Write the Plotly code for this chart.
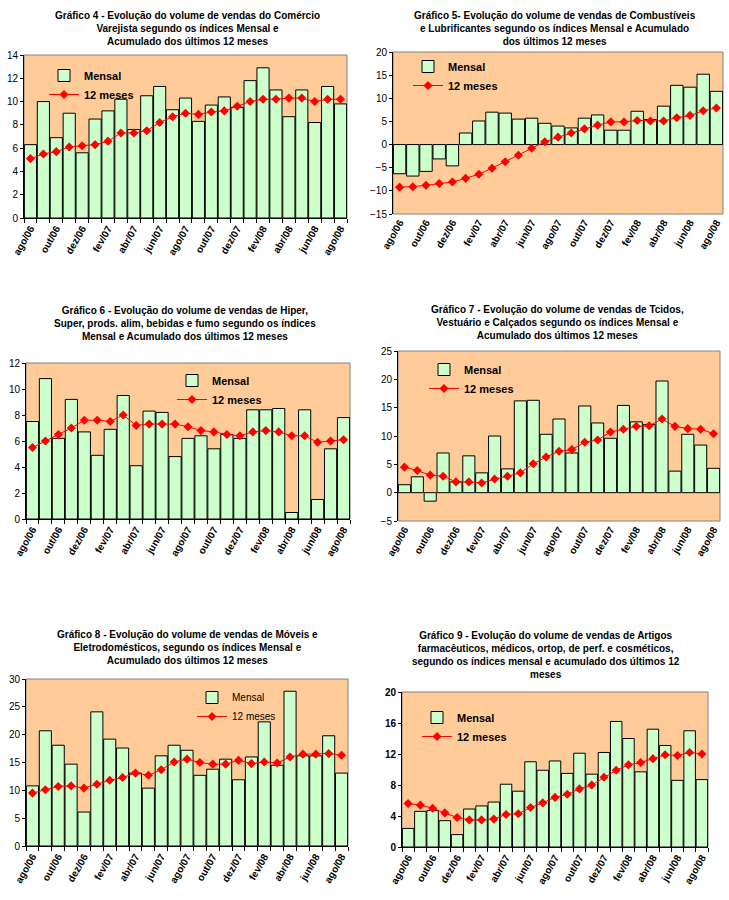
import plotly.graph_objects as go

months = ["ago/06", "set/06", "out/06", "nov/06", "dez/06", "jan/07", "fev/07", "mar/07",
          "abr/07", "mai/07", "jun/07", "jul/07", "ago/07", "set/07", "out/07", "nov/07",
          "dez/07", "jan/08", "fev/08", "mar/08", "abr/08", "mai/08", "jun/08", "jul/08", "ago/08"]

# Gráfico 4 - Comércio Varejista
g4_mensal = [6.3, 10.0, 6.9, 9.0, 5.6, 8.5, 9.2, 10.2, 7.6, 10.5, 11.3, 9.3, 10.3, 8.3, 9.7,
             10.4, 9.5, 11.8, 12.9, 11.0, 8.7, 11.0, 8.2, 11.3, 9.8]
g4_12m = [5.1, 5.5, 5.7, 6.1, 6.2, 6.3, 6.6, 7.3, 7.3, 7.5, 8.2, 8.7, 9.0, 8.9, 9.1,
          9.2, 9.6, 10.0, 10.2, 10.2, 10.3, 10.3, 10.0, 10.2, 10.2]

# Gráfico 5 - Combustíveis e Lubrificantes
g5_mensal = [-6.3, -6.8, -5.8, -3.1, -4.6, 2.5, 5.1, 7.0, 6.8, 5.5, 5.7, 4.6, 4.0, 3.6, 5.7,
             6.4, 3.1, 3.1, 7.2, 5.4, 8.3, 12.8, 12.4, 15.2, 11.5]
g5_12m = [-9.2, -9.1, -8.8, -8.4, -8.1, -7.3, -6.4, -5.1, -3.7, -2.3, -0.8, 0.6, 1.6, 2.5, 3.4,
          4.2, 4.9, 4.9, 5.2, 5.1, 5.1, 5.8, 6.3, 7.3, 7.9]

# Gráfico 6 - Hiper, Super, prods. alim, bebidas e fumo
g6_mensal = [7.5, 10.8, 6.2, 9.2, 6.7, 4.9, 6.9, 9.5, 4.1, 8.3, 8.2, 4.8, 6.2, 6.4, 5.4,
             6.5, 6.2, 8.4, 8.4, 8.5, 0.5, 8.4, 1.5, 5.4, 7.8]
g6_12m = [5.5, 6.0, 6.5, 7.0, 7.6, 7.6, 7.5, 8.0, 7.2, 7.3, 7.3, 7.3, 7.1, 6.8, 6.7,
          6.5, 6.4, 6.7, 6.8, 6.7, 6.4, 6.4, 5.9, 6.0, 6.1]

# Gráfico 7 - Tecidos, Vestuário e Calçados
g7_mensal = [1.4, 2.8, -1.5, 7.0, 1.9, 6.5, 3.5, 10.0, 4.2, 16.2, 16.3, 10.3, 13.0, 7.0, 15.3,
             12.3, 9.6, 15.4, 12.5, 12.0, 19.7, 3.8, 10.3, 8.4, 4.3]
g7_12m = [4.5, 3.9, 3.1, 2.9, 1.9, 1.9, 1.7, 2.4, 2.9, 3.5, 5.1, 6.3, 7.3, 7.6, 8.9,
          9.3, 10.7, 11.2, 11.7, 11.8, 13.0, 11.7, 11.3, 11.2, 10.4]

# Gráfico 8 - Móveis e Eletrodomésticos
g8_mensal = [10.8, 20.7, 18.1, 14.7, 6.1, 24.1, 19.2, 17.6, 13.1, 10.4, 16.2, 18.1, 17.2, 12.7, 13.8,
             15.6, 11.9, 16.0, 22.3, 14.5, 27.8, 16.2, 16.2, 19.8, 13.1]
g8_12m = [9.5, 10.1, 10.7, 10.8, 10.4, 11.1, 11.8, 12.3, 13.1, 12.7, 13.7, 15.1, 15.6, 15.0, 14.7,
          14.7, 15.4, 14.8, 15.1, 14.9, 16.0, 16.5, 16.5, 16.6, 16.3]

# Gráfico 9 - Artigos farmacêuticos, médicos, ortop., perf. e cosméticos
g9_mensal = [2.4, 4.6, 4.7, 3.4, 1.6, 4.9, 5.3, 5.8, 8.1, 7.2, 11.0, 9.9, 11.1, 9.5, 12.1,
             9.4, 12.2, 16.2, 14.0, 9.7, 15.2, 13.1, 8.6, 15.0, 8.7]
g9_12m = [5.6, 5.4, 5.0, 4.4, 3.8, 3.5, 3.5, 3.6, 4.2, 4.3, 5.1, 5.7, 6.4, 6.8, 7.5,
          8.0, 9.0, 9.9, 10.6, 10.9, 11.4, 11.9, 11.8, 12.2, 12.0]

titles = [
    "Gráfico 4 - Evolução do volume de vendas do Comércio<br>Varejista segundo os índices Mensal e<br>Acumulado dos últimos 12 meses",
    "Gráfico 5- Evolução do volume de vendas de Combustíveis<br>e Lubrificantes segundo os índices Mensal e Acumulado<br>dos últimos 12 meses",
    "Gráfico 6 - Evolução do volume de vendas de Hiper,<br>Super, prods. alim, bebidas e fumo segundo os índices<br>Mensal e Acumulado dos últimos 12 meses",
    "Gráfico 7 - Evolução do volume de vendas de Tcidos,<br>Vestuário e Calçados segundo os índices Mensal e<br>Acumulado dos últimos 12 meses",
    "Gráfico 8 - Evolução do volume de vendas de Móveis e<br>Eletrodomésticos, segundo os índices Mensal e<br>Acumulado dos últimos 12 meses",
    "Gráfico 9 - Evolução do volume de vendas de Artigos<br>farmacêuticos, médicos, ortop, de perf. e cosméticos,<br>segundo os índices mensal e acumulado dos últimos 12<br>meses",
]
series = [(g4_mensal, g4_12m), (g5_mensal, g5_12m), (g6_mensal, g6_12m),
          (g7_mensal, g7_12m), (g8_mensal, g8_12m), (g9_mensal, g9_12m)]

W, H = 729, 900
FONT = "Liberation Sans, Arial, sans-serif"

# layout config (pixels): plot area x0,x1,y0,y1 ; y range ; dtick ; title center/top ; legend pos
panels = [
    dict(px=(24, 347), py=(55, 218), yr=(0, 14), dt=2, tc=(187, 8), lg=(44, 61), lgap=0, ybold=False, lfs=11, lbold=True),
    dict(px=(393, 723), py=(52, 214), yr=(-15, 20), dt=5, tc=(555, 8), lg=(408, 52), lgap=0, ybold=False, lfs=11, lbold=True),
    dict(px=(26, 350), py=(363, 519), yr=(0, 12), dt=2, tc=(185, 303), lg=(172, 366), lgap=2, ybold=False, lfs=11, lbold=True),
    dict(px=(398, 720), py=(351, 521), yr=(-5, 25), dt=5, tc=(557, 302), lg=(424, 355), lgap=2, ybold=False, lfs=11, lbold=True),
    dict(px=(26, 348), py=(679, 846), yr=(0, 30), dt=5, tc=(187, 627), lg=(192, 683), lgap=0, ybold=False, lfs=10, lbold=False),
    dict(px=(402, 708), py=(692, 847), yr=(0, 20), dt=4, tc=(546, 628), lg=(417, 703), lgap=0, ybold=True, lfs=11, lbold=True),
]

xidx = list(range(len(months)))
fig = go.Figure()
layout = dict(width=W, height=H, autosize=False, margin=dict(l=0, r=0, t=0, b=0, autoexpand=False),
              paper_bgcolor="white", plot_bgcolor="#FFCC99", barmode="overlay",
              bargap=0.06, font=dict(family=FONT, color="black"), showlegend=True)
shapes, annotations = [], []
extra_axis = 7

for i, (p, (mensal, m12), title) in enumerate(zip(panels, series, titles)):
    n = i + 1
    xa = "x" if n == 1 else f"x{n}"
    ya = "y" if n == 1 else f"y{n}"
    lname = "legend" if n == 1 else f"legend{n}"
    xkey = "xaxis" if n == 1 else f"xaxis{n}"
    ykey = "yaxis" if n == 1 else f"yaxis{n}"
    fig.add_trace(go.Bar(x=xidx, y=mensal, name="Mensal", xaxis=xa, yaxis=ya, legend=lname,
                         marker=dict(color="#CCFFCC", line=dict(color="black", width=1)),
                         width=0.94))
    fig.add_trace(go.Scatter(x=xidx, y=m12, name="12 meses", xaxis=xa, yaxis=ya, legend=lname,
                             mode="lines+markers", line=dict(color="#FF0000", width=1),
                             marker=dict(symbol="diamond", size=7, color="#FF0000")))
    dx = (p["px"][0] / W, p["px"][1] / W)
    dy = (1 - p["py"][1] / H, 1 - p["py"][0] / H)
    neg = p["yr"][0] < 0
    layout[xkey] = dict(domain=dx, anchor=ya, range=[-0.5, len(months) - 0.5], automargin=False,
                        tickmode="array", tickvals=xidx[::2], ticktext=months[::2],
                        tickangle=-60, ticks="", showgrid=False, zeroline=False,
                        showline=not neg, linecolor="black", linewidth=1,
                        tickfont=dict(family=FONT, size=10, color="black", weight="bold"),
                        minor=dict(tick0=-0.5, dtick=1, ticks="" if neg else "outside",
                                   ticklen=4, tickcolor="black", showgrid=False))
    layout[ykey] = dict(domain=dy, anchor=xa, range=list(p["yr"]), dtick=p["dt"], automargin=False,
                        ticks="outside", ticklen=3, tickcolor="black", showgrid=False,
                        zeroline=False, showline=True, linecolor="black", linewidth=1,
                        tickfont=dict(family=FONT, size=10, color="black",
                                      weight="bold" if p["ybold"] else "normal"))
    # grey plot-area border (top/right/bottom)
    shapes.append(dict(type="rect", xref=f"{xa} domain", yref=f"{ya} domain",
                       x0=0, x1=1, y0=0, y1=1, line=dict(color="#808080", width=1),
                       layer="below"))
    if neg:
        # category axis crossing at zero
        zfrac = (0 - p["yr"][0]) / (p["yr"][1] - p["yr"][0])
        pos = dy[0] + zfrac * (dy[1] - dy[0])
        for tk in ("outside", "inside"):
            k = f"xaxis{extra_axis}"
            layout[k] = dict(domain=dx, overlaying=xa, anchor="free", position=pos,
                             range=[-0.5, len(months) - 0.5], side="bottom", automargin=False,
                             showline=True, linecolor="black", linewidth=1,
                             tickmode="linear", tick0=-0.5, dtick=1, ticks=tk, ticklen=3,
                             tickcolor="black", showticklabels=False, showgrid=False,
                             zeroline=False)
            extra_axis += 1
    annotations.append(dict(text=title, xref="paper", yref="paper", x=p["tc"][0] / W,
                            y=1 - p["tc"][1] / H, xanchor="center", yanchor="top",
                            showarrow=False, align="center",
                            font=dict(family=FONT, size=10, color="black", weight="bold")))
    layout[lname] = dict(x=p["lg"][0] / W, y=1 - p["lg"][1] / H, xanchor="left", yanchor="top",
                         bgcolor="rgba(0,0,0,0)", borderwidth=0, itemwidth=30,
                         tracegroupgap=p["lgap"], traceorder="normal",
                         font=dict(family=FONT, size=p["lfs"], color="black",
                                   weight="bold" if p["lbold"] else "normal"))

layout["shapes"] = shapes
layout["annotations"] = annotations
fig.update_layout(**layout)
fig.write_html("out.html", config={"displayModeBar": False},
               post_script="document.body.style.margin='0';document.body.style.overflow='hidden';")
